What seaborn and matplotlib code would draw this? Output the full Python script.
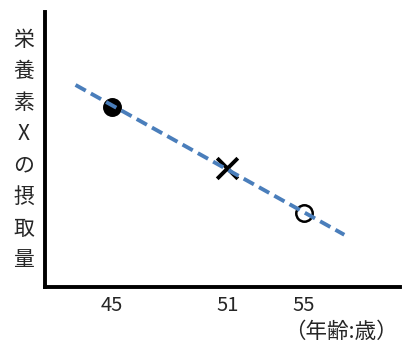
import matplotlib
matplotlib.use("Agg")
import matplotlib.pyplot as plt
import seaborn as sns
import pandas as pd

# data
trend_age = [43.1, 57.1]
trend_intake = [73.5, 19.0]
point_age = [45, 51, 55]
point_intake = [65.5, 43.3, 26.9]
point_marker = ["o", "x", "o"]
point_face = ["black", "black", "white"]
tick_ages = [45, 51, 55]
ylabel_text = "栄養素Xの摂取量"

sns.set_style("white")
plt.rcParams['font.family'] = ['Noto Sans CJK JP', 'DejaVu Sans']

fig = plt.figure(figsize=(4.04, 3.47), dpi=100)
ax = fig.add_axes([0.111, 0.173, 0.879, 0.792])

trend = pd.DataFrame({"age": trend_age, "intake": trend_intake})
sns.lineplot(data=trend, x="age", y="intake", ax=ax, color="#4a7ebb",
             linewidth=2.8, linestyle=(0, (3, 1.5)), zorder=3)

for a, v, m, fc in zip(point_age, point_intake, point_marker, point_face):
    df = pd.DataFrame({"age": [a], "intake": [v]})
    if m == "x":
        sns.scatterplot(data=df, x="age", y="intake", ax=ax, marker="x",
                        s=220, color="black", linewidth=2.8, zorder=2)
    else:
        sns.scatterplot(data=df, x="age", y="intake", ax=ax, marker="o",
                        s=140, facecolor=fc, edgecolor="black",
                        linewidth=1.8, zorder=2)

ax.set_xlim(41.5, 60)
ax.set_ylim(0, 100)
ax.set_xticks(tick_ages)
ax.set_xticklabels([str(t) for t in tick_ages], fontsize=14.5)
ax.set_yticks([])
ax.tick_params(axis="x", length=0, pad=6)
ax.set_xlabel("")
ax.set_ylabel("")

for s in ["top", "right"]:
    ax.spines[s].set_visible(False)
for s in ["left", "bottom"]:
    ax.spines[s].set_linewidth(2.8)
    ax.spines[s].set_color("black")

fig.text(0.059, 0.568, "\n".join(ylabel_text), fontsize=15, ha="center",
         va="center", linespacing=1.56)
fig.text(0.845, 0.043, "（年齢:歳）", fontsize=15.5, ha="center", va="center")

fig.savefig("out.png", dpi=100)
